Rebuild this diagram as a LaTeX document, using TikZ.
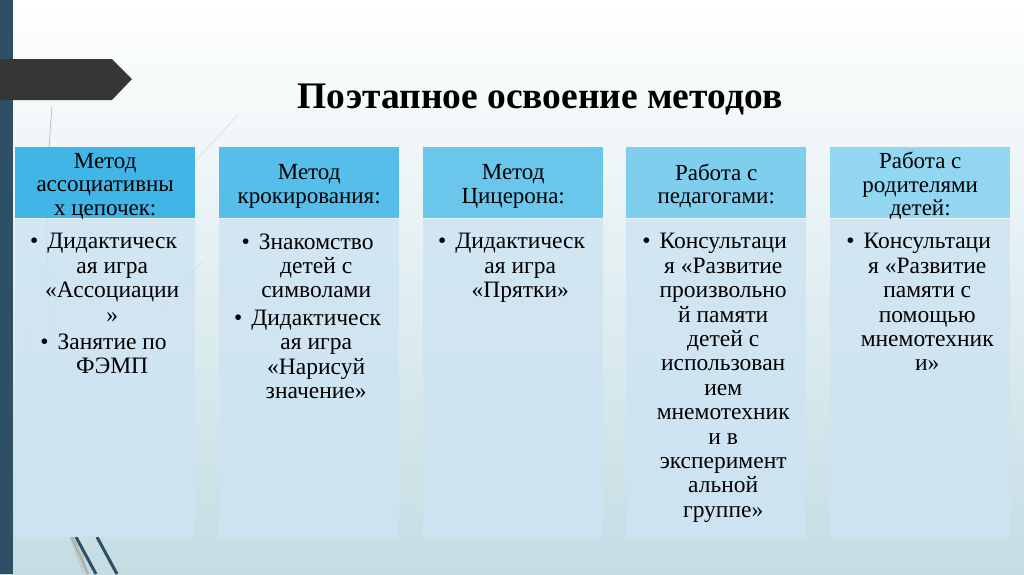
\documentclass[tikz,border=0pt]{standalone}
\usepackage{fontspec}
\setmainfont{Liberation Serif}
\usetikzlibrary{positioning,calc}
\definecolor{barc}{HTML}{2E4F65}
\definecolor{arrc}{HTML}{363636}
\definecolor{bgbot}{HTML}{C3DDE3}
\definecolor{bodyc}{HTML}{CFE4F3}
\definecolor{hdA}{HTML}{40B5E6}
\definecolor{hdB}{HTML}{55BEE9}
\definecolor{hdC}{HTML}{6BC6EC}
\definecolor{hdD}{HTML}{80CEEE}
\definecolor{hdE}{HTML}{93D6F1}
\tikzset{
  hd/.style    = {anchor=north west, minimum width=180pt, minimum height=71pt,
                  inner sep=0pt},
  hdtxt/.style = {align=center, inner sep=0pt, yshift=-3.5pt,
                  font=\fontsize{23}{23.5}\selectfont},
  bd/.style    = {anchor=north west, minimum width=180pt, minimum height=318pt,
                  inner sep=0pt, fill=bodyc, fill opacity=0.9},
  tx/.style    = {anchor=north, align=center, inner sep=0pt,
                  font=\fontsize{23.5}{24.4}\selectfont},
  deco/.style  = {line width=0.7pt, draw=gray!55},
  fdeco/.style = {line width=0.5pt, draw=gray!30},
  swoosh/.style= {line width=3pt, draw=barc},
}
\newcommand{\bul}{\llap{\textbullet\hspace{9pt}}}

\begin{document}
\begin{tikzpicture}[x=1pt,y=-1pt]
  \useasboundingbox (0,0) rectangle (1024,574);
  \shade[top color=white, bottom color=bgbot] (0,0) rectangle (1024,574);
  \fill[barc] (0,0) rectangle (13,574);
  \fill[arrc] (0,59) -- (112,59) -- (132,79) -- (112,100) -- (0,100) -- cycle;
  % thin lines behind the boxes
  \draw[deco] (52,106) .. controls (40,250) and (50,450) .. (88,574);
  \draw[deco] (28,330) .. controls (40,440) and (62,520) .. (84,574);
  \draw[fdeco] (100,380) .. controls (80,450) and (82,530) .. (104,574);
  \draw[fdeco] (238,115) -- (150,210);
  \draw[fdeco] (202,262) -- (160,310);
  \draw[swoosh, draw=gray!60] (72,537) -- (88,574);
  \draw[swoosh] (76,537) -- (96,574);
  \draw[swoosh] (97,537) -- (117,574);

  \node[font=\bfseries\fontsize{37.5}{40}\selectfont] (title) at (540,99)
    {Поэтапное освоение методов};

  \node[hd, fill=hdA] (hA) at (15,147) {};
  \node[hd, fill=hdB] (hB) at (219,147) {};
  \node[hd, fill=hdC] (hC) at (423,147) {};
  \node[hd, fill=hdD] (hD) at (626,147) {};
  \node[hd, fill=hdE] (hE) at (830,147) {};
  \node[hdtxt] (lA) at (hA.center) {Метод\\ассоциативны\\х цепочек:};
  \node[hdtxt] (lB) at (hB.center) {Метод\\крокирования:};
  \node[hdtxt] (lC) at (hC.center) {Метод\\Цицерона:};
  \node[hdtxt] (lD) at (hD.center) {Работа с\\педагогами:};
  \node[hdtxt] (lE) at (hE.center) {Работа с\\родителями\\детей:};

  \node[bd] (bA) at (hA.south west) {};
  \node[bd] (bB) at (hB.south west) {};
  \node[bd] (bC) at (hC.south west) {};
  \node[bd] (bD) at (hD.south west) {};
  \node[bd] (bE) at (hE.south west) {};

  \node[tx] (tA) at ($(bA.north)+(7,15)$)
    {\bul Дидактическ\\ая игра\\«Ассоциации\\»\\[3pt]\bul Занятие по\\ФЭМП};
  \node[tx] (tB) at ($(bB.north)+(7,15)$)
    {\bul Знакомство\\детей с\\символами\\[3pt]\bul Дидактическ\\ая игра\\«Нарисуй\\значение»};
  \node[tx] (tC) at ($(bC.north)+(7,15)$)
    {\bul Дидактическ\\ая игра\\«Прятки»};
  \node[tx] (tD) at ($(bD.north)+(7,15)$)
    {\bul Консультаци\\я «Развитие\\произвольно\\й памяти\\детей с\\использован\\ием\\мнемотехник\\и в\\эксперимент\\альной\\группе»};
  \node[tx] (tE) at ($(bE.north)+(7,15)$)
    {\bul Консультаци\\я «Развитие\\памяти с\\помощью\\мнемотехник\\и»};
\end{tikzpicture}
\end{document}
